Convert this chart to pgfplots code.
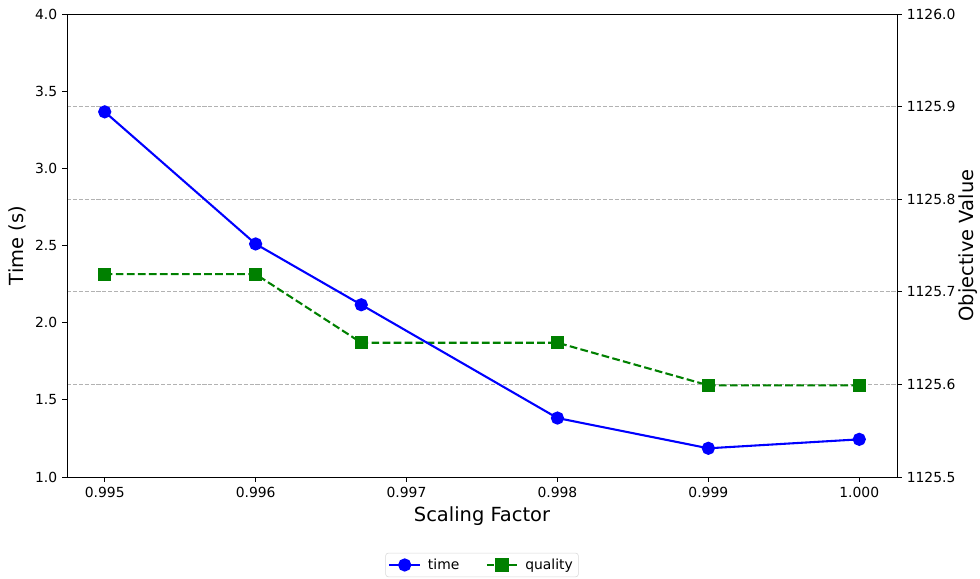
\documentclass[border=0pt]{standalone}
\usepackage{pgfplots}
\pgfplotsset{compat=1.18}
\usepackage{fontspec}
\setmainfont{DejaVu Sans}
\definecolor{mplgreen}{HTML}{008000}
\definecolor{mplblue}{HTML}{0000FF}
\begin{document}
\begin{tikzpicture}
\useasboundingbox (-48.24pt,-73.44pt) rectangle (657.36pt,343.44pt);
\begin{axis}[
  at={(0,0)}, anchor=south west,
  scale only axis, width=597.6pt, height=333.36pt,
  xmin=0.99475, xmax=1.00025,
  ymin=1125.5, ymax=1126.0,
  axis x line=none,
  axis y line*=right,
  ytick={1125.5,1125.6,1125.7,1125.8,1125.9,1126.0},
  yticklabel style={/pgf/number format/.cd,fixed,fixed zerofill,precision=1,1000 sep={}},
  /pgf/number format/assume math mode=true,
  tick align=outside,
  major tick length=3.5pt,
  tick style={black, line width=0.6pt},
  axis line style={line width=0.6pt},
  ticklabel style={font=\fontsize{10}{12}\selectfont},
  ylabel={Objective Value},
  every axis y label/.style={at={(rel axis cs:1,0.5)}, xshift=51pt, rotate=90, anchor=center},
  label style={font=\fontsize{14}{16}\selectfont},
  ymajorgrids, grid style={dash pattern=on 2.96pt off 1.28pt, black!30, line width=0.6pt},
]
\addplot[mplgreen, line width=1.5pt, dash pattern=on 5.55pt off 2.4pt, mark=square*, mark size=4pt, mark options={solid}] coordinates {
(0.995,1125.719) (0.996,1125.719) (0.9967,1125.645) (0.998,1125.645) (0.999,1125.599) (1.000,1125.599)
};
\end{axis}
\begin{axis}[
  at={(0,0)}, anchor=south west,
  scale only axis, width=597.6pt, height=333.36pt,
  xmin=0.99475, xmax=1.00025,
  ymin=1.0, ymax=4.0,
  xtick={0.995,0.996,0.997,0.998,0.999,1.000},
  ytick={1.0,1.5,2.0,2.5,3.0,3.5,4.0},
  xticklabel style={/pgf/number format/.cd,fixed,fixed zerofill,precision=3},
  yticklabel style={/pgf/number format/.cd,fixed,fixed zerofill,precision=1},
  /pgf/number format/assume math mode=true,
  scaled x ticks=false,
  tick align=outside, tick pos=left,
  major tick length=3.5pt,
  tick style={black, line width=0.6pt},
  axis line style={line width=0.6pt},
  ticklabel style={font=\fontsize{10}{12}\selectfont},
  xlabel={Scaling Factor}, ylabel={Time (s)},
  label style={font=\fontsize{14}{16}\selectfont},
  legend columns=2,
  legend style={at={(0.5,-0.19)}, anchor=center, draw=black!15, rounded corners=2pt,
    font=\fontsize{10}{12}\selectfont, inner xsep=2pt, inner ysep=2pt,
    /tikz/every even column/.append style={column sep=17pt},
    /tikz/every odd column/.append style={column sep=3pt}},
  legend image code/.code={\draw[mark repeat=2,mark phase=2,#1] plot coordinates {(0pt,0pt) (11pt,0pt) (22pt,0pt)};},
  legend cell align=left,
]
\addplot[mplblue, line width=1.5pt, mark=*, mark size=4pt] coordinates {
(0.995,3.366) (0.996,2.510) (0.9967,2.116) (0.998,1.382) (0.999,1.186) (1.000,1.244)
};
\addlegendentry{time}
\addlegendimage{mplgreen, line width=1.5pt, dash pattern=on 5.55pt off 2.4pt, mark=square*, mark size=4pt, mark options={solid}}
\addlegendentry{quality}
\end{axis}
\end{tikzpicture}
\end{document}
